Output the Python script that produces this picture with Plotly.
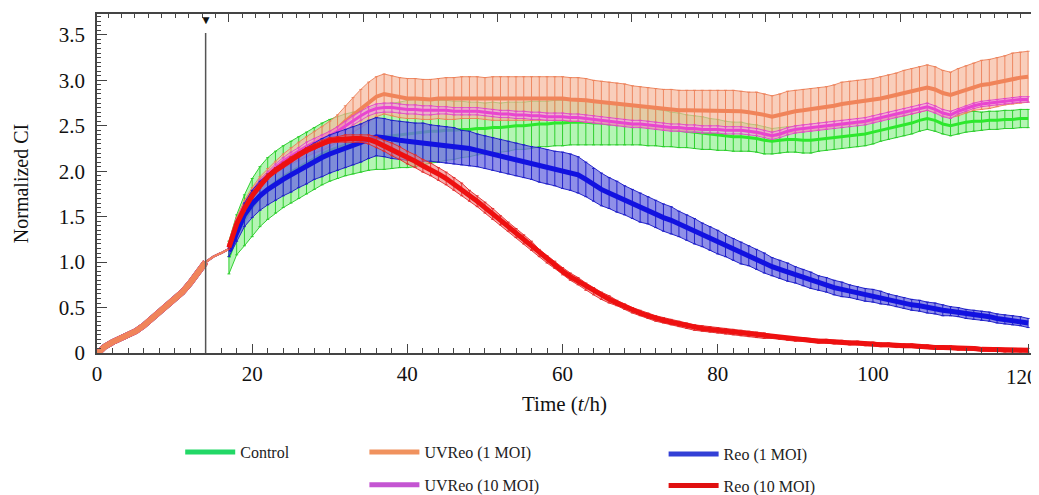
import plotly.graph_objects as go

SERIF = "Liberation Serif"

# ---------------- data ----------------
treatment_time = 14

# pre-treatment baseline, shared by all wells (normalised to 1.0 at 14 h)
time_pre = [0, 0.5, 1, 2, 3, 4, 5, 6, 7, 8, 9, 10, 11, 12, 13, 14]
ci_pre = [-0.01, 0.03, 0.07, 0.12, 0.16, 0.20, 0.24, 0.30, 0.37, 0.44, 0.51, 0.59,
          0.67, 0.77, 0.88, 1.00]
# sparse readings between treatment and medium change
time_gap = [14, 15, 16, 16.9]
ci_gap = [1.00, 1.06, 1.10, 1.14]

# hourly readings after medium change (17 h .. 120 h)
time_post = list(range(17, 121))

control_mean = [
    1.05, 1.30, 1.46, 1.60, 1.72, 1.81, 1.88, 1.94, 1.99, 2.04,
    2.09, 2.14, 2.19, 2.23, 2.26, 2.29, 2.31, 2.33, 2.35, 2.37,
    2.38, 2.39, 2.40, 2.41, 2.42, 2.43, 2.44, 2.44, 2.45, 2.45,
    2.46, 2.46, 2.47, 2.47, 2.48, 2.48, 2.49, 2.50, 2.50, 2.51,
    2.52, 2.52, 2.53, 2.53, 2.54, 2.54, 2.54, 2.53, 2.53, 2.52,
    2.52, 2.51, 2.51, 2.50, 2.49, 2.48, 2.47, 2.46, 2.45, 2.44,
    2.43, 2.42, 2.41, 2.40, 2.39, 2.38, 2.38, 2.37, 2.36, 2.34,
    2.33, 2.34, 2.35, 2.35, 2.34, 2.34, 2.35, 2.36, 2.37, 2.38,
    2.39, 2.40, 2.41, 2.43, 2.45, 2.47, 2.49, 2.51, 2.53, 2.56,
    2.58, 2.56, 2.52, 2.50, 2.52, 2.54, 2.55, 2.55, 2.56, 2.56,
    2.57, 2.57, 2.58, 2.58]
control_sd = [
    0.18, 0.22, 0.28, 0.32, 0.33, 0.34, 0.34, 0.34, 0.34, 0.34,
    0.34, 0.34, 0.34, 0.34, 0.34, 0.34, 0.34, 0.34, 0.34, 0.35,
    0.36, 0.36, 0.36, 0.37, 0.37, 0.36, 0.35, 0.34, 0.33, 0.32,
    0.31, 0.30, 0.29, 0.28, 0.28, 0.27, 0.27, 0.26, 0.26, 0.26,
    0.25, 0.25, 0.25, 0.25, 0.25, 0.25, 0.25, 0.24, 0.24, 0.23,
    0.23, 0.22, 0.22, 0.21, 0.21, 0.20, 0.20, 0.19, 0.19, 0.18,
    0.18, 0.18, 0.17, 0.17, 0.16, 0.16, 0.16, 0.15, 0.15, 0.15,
    0.14, 0.14, 0.14, 0.14, 0.14, 0.14, 0.13, 0.13, 0.13, 0.13,
    0.13, 0.13, 0.13, 0.13, 0.12, 0.12, 0.12, 0.12, 0.12, 0.12,
    0.12, 0.12, 0.11, 0.11, 0.11, 0.11, 0.11, 0.10, 0.10, 0.10,
    0.10, 0.10, 0.10, 0.10]

uvreo1_mean = [
    1.17, 1.45, 1.63, 1.77, 1.88, 1.97, 2.04, 2.11, 2.17, 2.22,
    2.27, 2.32, 2.36, 2.41, 2.47, 2.55, 2.62, 2.69, 2.76, 2.82,
    2.85, 2.83, 2.81, 2.80, 2.80, 2.79, 2.79, 2.80, 2.80, 2.80,
    2.81, 2.81, 2.81, 2.80, 2.80, 2.80, 2.80, 2.80, 2.80, 2.80,
    2.80, 2.80, 2.80, 2.80, 2.79, 2.79, 2.78, 2.77, 2.76, 2.75,
    2.74, 2.73, 2.72, 2.71, 2.70, 2.69, 2.68, 2.68, 2.67, 2.67,
    2.67, 2.67, 2.67, 2.67, 2.67, 2.67, 2.66, 2.65, 2.64, 2.62,
    2.60, 2.62, 2.65, 2.66, 2.67, 2.68, 2.69, 2.70, 2.72, 2.74,
    2.75, 2.76, 2.77, 2.78, 2.80, 2.82, 2.84, 2.86, 2.88, 2.90,
    2.92, 2.90, 2.86, 2.84, 2.87, 2.90, 2.93, 2.95, 2.96, 2.98,
    3.00, 3.02, 3.03, 3.04]
uvreo1_sd = [
    0.03, 0.04, 0.05, 0.05, 0.06, 0.06, 0.07, 0.08, 0.09, 0.10,
    0.11, 0.12, 0.13, 0.14, 0.15, 0.17, 0.19, 0.21, 0.22, 0.22,
    0.22, 0.22, 0.22, 0.22, 0.22, 0.22, 0.22, 0.22, 0.23, 0.23,
    0.23, 0.23, 0.23, 0.23, 0.24, 0.24, 0.24, 0.24, 0.24, 0.24,
    0.24, 0.24, 0.24, 0.24, 0.24, 0.24, 0.24, 0.23, 0.23, 0.23,
    0.23, 0.23, 0.22, 0.22, 0.22, 0.22, 0.22, 0.22, 0.22, 0.22,
    0.22, 0.22, 0.22, 0.22, 0.22, 0.22, 0.22, 0.22, 0.23, 0.23,
    0.23, 0.23, 0.23, 0.23, 0.23, 0.23, 0.23, 0.23, 0.23, 0.24,
    0.24, 0.24, 0.24, 0.24, 0.24, 0.24, 0.24, 0.25, 0.25, 0.25,
    0.25, 0.25, 0.25, 0.25, 0.26, 0.26, 0.26, 0.27, 0.27, 0.27,
    0.27, 0.28, 0.28, 0.28]

uvreo10_mean = [
    1.16, 1.44, 1.62, 1.76, 1.87, 1.96, 2.04, 2.11, 2.17, 2.22,
    2.27, 2.31, 2.35, 2.39, 2.44, 2.50, 2.56, 2.61, 2.66, 2.69,
    2.70, 2.70, 2.69, 2.68, 2.68, 2.67, 2.67, 2.67, 2.67, 2.66,
    2.66, 2.66, 2.66, 2.65, 2.64, 2.63, 2.63, 2.62, 2.62, 2.61,
    2.61, 2.60, 2.60, 2.60, 2.59, 2.59, 2.58, 2.57, 2.56, 2.55,
    2.54, 2.53, 2.52, 2.52, 2.51, 2.50, 2.49, 2.48, 2.48, 2.47,
    2.47, 2.46, 2.46, 2.46, 2.45, 2.45, 2.45, 2.44, 2.43, 2.41,
    2.39, 2.41, 2.44, 2.46, 2.47, 2.48, 2.49, 2.50, 2.51, 2.52,
    2.53, 2.54, 2.55, 2.57, 2.59, 2.61, 2.63, 2.65, 2.67, 2.69,
    2.71, 2.68, 2.64, 2.62, 2.66, 2.69, 2.72, 2.74, 2.75, 2.76,
    2.77, 2.78, 2.79, 2.79]
uvreo10_sd = [
    0.02, 0.03, 0.03, 0.03, 0.04, 0.04, 0.04, 0.04, 0.04, 0.04,
    0.05, 0.05, 0.05, 0.05, 0.05, 0.05, 0.05, 0.05, 0.05, 0.05,
    0.05, 0.05, 0.05, 0.05, 0.05, 0.05, 0.05, 0.04, 0.04, 0.04,
    0.04, 0.04, 0.04, 0.04, 0.04, 0.04, 0.04, 0.04, 0.04, 0.04,
    0.04, 0.04, 0.04, 0.04, 0.04, 0.04, 0.04, 0.04, 0.04, 0.04,
    0.04, 0.04, 0.04, 0.04, 0.04, 0.04, 0.04, 0.04, 0.04, 0.04,
    0.04, 0.04, 0.04, 0.04, 0.04, 0.04, 0.04, 0.04, 0.04, 0.04,
    0.04, 0.04, 0.04, 0.04, 0.04, 0.04, 0.04, 0.04, 0.04, 0.04,
    0.04, 0.04, 0.04, 0.04, 0.04, 0.04, 0.04, 0.04, 0.04, 0.04,
    0.04, 0.04, 0.04, 0.04, 0.03, 0.03, 0.03, 0.03, 0.03, 0.03,
    0.03, 0.03, 0.03, 0.03]

reo1_mean = [
    1.12, 1.33, 1.52, 1.64, 1.73, 1.80, 1.86, 1.91, 1.96, 2.01,
    2.06, 2.11, 2.15, 2.19, 2.22, 2.25, 2.28, 2.31, 2.35, 2.38,
    2.37, 2.35, 2.34, 2.33, 2.32, 2.32, 2.31, 2.30, 2.29, 2.28,
    2.26, 2.25, 2.23, 2.21, 2.19, 2.17, 2.15, 2.13, 2.11, 2.09,
    2.07, 2.05, 2.03, 2.01, 1.99, 1.96, 1.91, 1.85, 1.80, 1.76,
    1.72, 1.68, 1.64, 1.60, 1.57, 1.53, 1.49, 1.46, 1.42, 1.38,
    1.34, 1.30, 1.26, 1.22, 1.18, 1.14, 1.10, 1.07, 1.03, 0.99,
    0.95, 0.92, 0.89, 0.86, 0.83, 0.80, 0.77, 0.75, 0.72, 0.70,
    0.68, 0.66, 0.64, 0.63, 0.61, 0.59, 0.57, 0.55, 0.53, 0.52,
    0.50, 0.49, 0.47, 0.46, 0.45, 0.43, 0.42, 0.41, 0.40, 0.38,
    0.37, 0.36, 0.35, 0.33]
reo1_sd = [
    0.06, 0.10, 0.13, 0.15, 0.16, 0.17, 0.18, 0.18, 0.19, 0.19,
    0.20, 0.20, 0.21, 0.21, 0.21, 0.21, 0.21, 0.21, 0.21, 0.21,
    0.21, 0.21, 0.21, 0.21, 0.21, 0.21, 0.20, 0.20, 0.20, 0.20,
    0.19, 0.19, 0.18, 0.18, 0.18, 0.18, 0.18, 0.18, 0.18, 0.18,
    0.19, 0.19, 0.19, 0.20, 0.20, 0.20, 0.19, 0.18, 0.18, 0.17,
    0.17, 0.16, 0.16, 0.16, 0.15, 0.15, 0.15, 0.15, 0.14, 0.14,
    0.14, 0.13, 0.13, 0.13, 0.12, 0.12, 0.12, 0.11, 0.11, 0.11,
    0.10, 0.10, 0.10, 0.09, 0.09, 0.09, 0.08, 0.08, 0.08, 0.08,
    0.07, 0.07, 0.07, 0.07, 0.07, 0.06, 0.06, 0.06, 0.06, 0.06,
    0.06, 0.06, 0.06, 0.05, 0.05, 0.05, 0.05, 0.05, 0.05, 0.05,
    0.05, 0.05, 0.05, 0.05]

reo10_mean = [
    1.16, 1.42, 1.59, 1.73, 1.84, 1.94, 2.01, 2.07, 2.13, 2.18,
    2.23, 2.27, 2.31, 2.34, 2.35, 2.36, 2.36, 2.36, 2.35, 2.32,
    2.28, 2.24, 2.20, 2.15, 2.11, 2.06, 2.02, 1.97, 1.92, 1.86,
    1.80, 1.73, 1.67, 1.60, 1.53, 1.46, 1.39, 1.32, 1.25, 1.18,
    1.10, 1.03, 0.97, 0.90, 0.84, 0.79, 0.73, 0.68, 0.63, 0.59,
    0.55, 0.51, 0.47, 0.44, 0.41, 0.38, 0.36, 0.34, 0.32, 0.30,
    0.28, 0.27, 0.26, 0.25, 0.24, 0.23, 0.22, 0.21, 0.20, 0.19,
    0.18, 0.17, 0.16, 0.15, 0.15, 0.14, 0.13, 0.13, 0.12, 0.12,
    0.11, 0.11, 0.10, 0.10, 0.09, 0.09, 0.08, 0.08, 0.08, 0.07,
    0.07, 0.06, 0.06, 0.06, 0.05, 0.05, 0.05, 0.04, 0.04, 0.04,
    0.03, 0.03, 0.03, 0.03]
reo10_sd = [
    0.02, 0.03, 0.03, 0.03, 0.03, 0.03, 0.03, 0.03, 0.03, 0.03,
    0.03, 0.03, 0.03, 0.03, 0.03, 0.04, 0.04, 0.04, 0.05, 0.06,
    0.06, 0.07, 0.07, 0.07, 0.07, 0.07, 0.07, 0.07, 0.07, 0.07,
    0.07, 0.06, 0.06, 0.06, 0.06, 0.05, 0.05, 0.05, 0.05, 0.05,
    0.04, 0.04, 0.04, 0.04, 0.04, 0.04, 0.04, 0.04, 0.04, 0.04,
    0.03, 0.03, 0.03, 0.03, 0.03, 0.03, 0.03, 0.03, 0.03, 0.03,
    0.03, 0.03, 0.03, 0.03, 0.03, 0.03, 0.03, 0.03, 0.03, 0.03,
    0.02, 0.02, 0.02, 0.02, 0.02, 0.02, 0.02, 0.02, 0.02, 0.02,
    0.02, 0.02, 0.02, 0.02, 0.02, 0.02, 0.02, 0.02, 0.02, 0.02,
    0.02, 0.02, 0.02, 0.02, 0.02, 0.02, 0.02, 0.02, 0.02, 0.02,
    0.02, 0.02, 0.02, 0.02]

x_ticks = [0, 20, 40, 60, 80, 100, 120]
x_tick_text = ["0", "20", "40", "60", "80", "100", "120"]
y_ticks = [0, 0.5, 1.0, 1.5, 2.0, 2.5, 3.0, 3.5]
y_tick_text = ["0", "0.5", "1.0", "1.5", "2.0", "2.5", "3.0", "3.5"]
top_ticks = [17.0, 34.3, 51.6, 68.9, 86.2, 103.5]

# ---------------- styling ----------------
styles = {
    "Control":        dict(line="#2de82d", fill="rgba(130,238,130,0.60)", bar="rgba(40,205,40,0.95)", w=3, leg="#22d866"),
    "UVReo (1 MOI)":  dict(line="#f0845a", fill="rgba(246,185,158,0.70)", bar="rgba(236,128,88,0.90)", w=4, leg="#f0925e"),
    "UVReo (10 MOI)": dict(line="#e845d0", fill="rgba(242,160,228,0.60)", bar="rgba(226,70,200,0.90)", w=3, leg="#c455d2"),
    "Reo (1 MOI)":    dict(line="#1212e0", fill="rgba(112,112,226,0.78)", bar="rgba(30,30,200,0.95)", w=5, leg="#3340d6"),
    "Reo (10 MOI)":   dict(line="#ee1010", fill="rgba(240,120,120,0.60)", bar="rgba(226,40,40,0.90)", w=5, leg="#e01010"),
}
series_data = {
    "Control": (control_mean, control_sd),
    "UVReo (1 MOI)": (uvreo1_mean, uvreo1_sd),
    "UVReo (10 MOI)": (uvreo10_mean, uvreo10_sd),
    "Reo (1 MOI)": (reo1_mean, reo1_sd),
    "Reo (10 MOI)": (reo10_mean, reo10_sd),
}
for nm, (m, s) in series_data.items():
    assert len(m) == len(time_post) and len(s) == len(time_post), nm

fig = go.Figure()

draw_order = ["Control", "UVReo (1 MOI)", "UVReo (10 MOI)", "Reo (1 MOI)", "Reo (10 MOI)"]
for nm in draw_order:
    mean, sd = series_data[nm]
    st = styles[nm]
    lo = [a - b for a, b in zip(mean, sd)]
    hi = [a + b for a, b in zip(mean, sd)]
    fig.add_trace(go.Scatter(x=time_post, y=lo, mode="lines", line=dict(color=st["bar"], width=1),
                             showlegend=False, hoverinfo="skip"))
    fig.add_trace(go.Scatter(x=time_post, y=hi, mode="lines", line=dict(color=st["bar"], width=1),
                             fill="tonexty", fillcolor=st["fill"], showlegend=False, hoverinfo="skip"))
    fig.add_trace(go.Scatter(x=time_post, y=mean, mode="lines", name=nm,
                             line=dict(color=st["line"], width=st["w"]),
                             error_y=dict(type="data", array=sd, visible=True, color=st["bar"],
                                          thickness=1, width=1.5),
                             showlegend=False))

# pre-treatment segment (all wells overlap), orange ends up on top
for nm in ["Control", "Reo (1 MOI)", "Reo (10 MOI)", "UVReo (10 MOI)", "UVReo (1 MOI)"]:
    st = styles[nm]
    fig.add_trace(go.Scatter(x=time_pre, y=ci_pre, mode="lines", line=dict(color=st["line"], width=6),
                             showlegend=False, hoverinfo="skip", cliponaxis=False))
    fig.add_trace(go.Scatter(x=time_gap, y=ci_gap, mode="lines", line=dict(color=st["line"], width=2),
                             showlegend=False, hoverinfo="skip"))

# legend entries (one small legend per entry, laid out like the original)
legend_pos = {
    "Control":        ("legend",  0.089, -0.292),
    "UVReo (1 MOI)":  ("legend2", 0.286, -0.292),
    "Reo (1 MOI)":    ("legend3", 0.606, -0.298),
    "UVReo (10 MOI)": ("legend4", 0.286, -0.389),
    "Reo (10 MOI)":   ("legend5", 0.606, -0.391),
}
for nm in ["Control", "UVReo (1 MOI)", "Reo (1 MOI)", "UVReo (10 MOI)", "Reo (10 MOI)"]:
    fig.add_trace(go.Scatter(x=[None], y=[None], mode="lines", name=nm,
                             line=dict(color=styles[nm]["leg"], width=5),
                             legend=legend_pos[nm][0]))

# empty trace to carry the top tick axis
fig.add_trace(go.Scatter(x=[None], y=[None], xaxis="x2", showlegend=False, hoverinfo="skip"))

axis_col = "#444444"
tick_font = dict(family=SERIF, size=21, color="#111111")

layout_legends = {}
for nm, (key, lx, ly) in legend_pos.items():
    layout_legends[key] = dict(x=lx, y=ly, xanchor="left", yanchor="middle",
                               bgcolor="rgba(0,0,0,0)", itemwidth=50,
                               font=dict(family=SERIF, size=16, color="#222222"))

# the last x tick label sits at the very edge; it is nudged left as in the original
shown_tick_text = x_tick_text[:-1] + [""]
last_label = dict(text=x_tick_text[-1], x=x_ticks[-1], xref="x", y=0, yref="paper",
                  xanchor="center", yanchor="top", xshift=-6, yshift=-10, showarrow=False,
                  font=tick_font)

# the page body adds an 8 px offset, so the figure is sized to fill the rest of the window
fig.update_layout(
    width=1031, height=487,
    margin=dict(l=89, r=7, t=6, b=142, autoexpand=False),
    paper_bgcolor="white", plot_bgcolor="white",
    showlegend=True,
    xaxis=dict(range=[0, 120.5], showline=True, linecolor=axis_col, linewidth=1.5,
               ticks="inside", ticklen=9, tickwidth=1.2, tickcolor=axis_col,
               tickmode="array", tickvals=x_ticks, ticktext=shown_tick_text, tickfont=tick_font,
               ticklabelstandoff=1, automargin=False,
               minor=dict(ticks="inside", ticklen=5, tickwidth=1, tickcolor=axis_col,
                          tick0=0, dtick=2, showgrid=False),
               showgrid=False, zeroline=False,
               title=dict(text="Time (<i>t</i>/h)", font=dict(family=SERIF, size=21, color="#111111"),
                          standoff=11)),
    xaxis2=dict(overlaying="x", side="top", anchor="y", range=[0, 120.5], automargin=False,
                showline=True, linecolor=axis_col, linewidth=1.5,
                ticks="inside", ticklen=8, tickwidth=1.2, tickcolor=axis_col,
                tickmode="array", tickvals=top_ticks, showticklabels=False,
                minor=dict(ticks="inside", ticklen=4, tickwidth=1, tickcolor=axis_col,
                           tick0=top_ticks[0], dtick=1.73, showgrid=False),
                showgrid=False, zeroline=False),
    yaxis=dict(range=[0, 3.73], showline=True, mirror=True, linecolor=axis_col, linewidth=1.5,
               ticks="inside", ticklen=10, tickwidth=1.2, tickcolor=axis_col,
               tickmode="array", tickvals=y_ticks, ticktext=y_tick_text, tickfont=tick_font,
               ticklabelstandoff=6, automargin=False,
               minor=dict(ticks="inside", ticklen=4, tickwidth=1, tickcolor=axis_col,
                          tick0=0, dtick=0.05, showgrid=False),
               showgrid=False, zeroline=False,
               title=dict(text="Normalized CI", font=dict(family=SERIF, size=20, color="#111111"),
                          standoff=25)),
    shapes=[dict(type="line", xref="x", yref="y", x0=treatment_time, x1=treatment_time,
                 y0=0, y1=3.52, line=dict(color="#555555", width=1.5), layer="above")],
    annotations=[dict(text="▼", x=treatment_time, xref="x", y=1.0, yref="paper",
                      yanchor="top", xanchor="center", showarrow=False, yshift=5,
                      font=dict(size=12, color="#111111")),
                 last_label],
    **layout_legends,
)

fig.write_html("out.html")
